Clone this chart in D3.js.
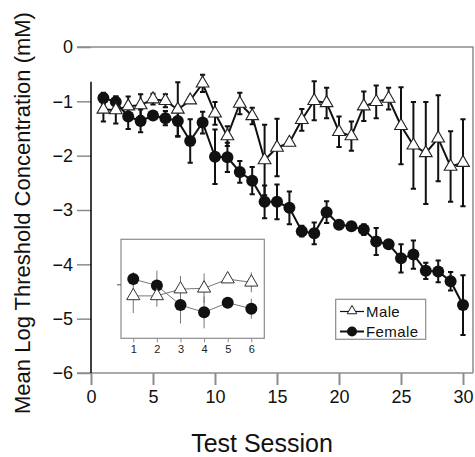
<!DOCTYPE html>
<html>
<head>
<meta charset="utf-8">
<script src="https://cdn.jsdelivr.net/npm/d3@7"></script>
<style>
  body { margin: 0; background: #fff; }
  svg text { font-family: "Liberation Sans", Arial, sans-serif; }
</style>
</head>
<body>
<script>
let width = 475;
let height = 457;

// main chart data
let sessions = [1,2,3,4,5,6,7,8,9,10,11,12,13,14,15,16,17,18,19,20,21,22,23,24,25,26,27,28,29,30];
let femaleMean = [-0.94,-1.01,-1.28,-1.36,-1.26,-1.31,-1.36,-1.73,-1.39,-2.02,-2.03,-2.30,-2.46,-2.85,-2.85,-2.96,-3.39,-3.43,-3.04,-3.27,-3.30,-3.36,-3.58,-3.63,-3.89,-3.82,-4.12,-4.13,-4.31,-4.75];
let femaleErr = [0.1,0.1,0.23,0.21,0.05,0.13,0.28,0.4,0.2,0.5,0.27,0.2,0.25,0.3,0.32,0.3,0.1,0.2,0.2,0.04,0.04,0.1,0.25,0.04,0.26,0.26,0.15,0.2,0.17,0.55];
let maleMean = [-1.15,-1.16,-1.09,-1.07,-0.96,-0.99,-1.15,-0.98,-0.67,-1.22,-1.64,-1.04,-1.27,-2.08,-1.85,-1.76,-1.34,-0.99,-1.03,-1.56,-1.64,-1.09,-1.01,-0.95,-1.45,-1.81,-1.95,-1.68,-2.20,-2.13];
let maleErr = [0.22,0.25,0.18,0.2,0.1,0.12,0.5,0.05,0.16,0.21,0.18,0.2,0.15,0.65,0.53,0.05,0.2,0.36,0.28,0.28,0.27,0.27,0.3,0.2,0.71,0.8,0.94,0.79,0.65,0.8];

let xTicks = [0,5,10,15,20,25,30];
let yTicks = [0,-1,-2,-3,-4,-5,-6];

// inset data (sessions 1-6)
let insetSessions = [1,2,3,4,5,6];
let insetFemale = [0.13,-0.03,-0.52,-0.70,-0.46,-0.61];
let insetFemaleErr = [0.18,0.37,0.46,0.4,0.08,0.25];
let insetMale = [-0.29,-0.29,-0.12,-0.10,0.13,0.05];
let insetMaleErr = [0.43,0.27,0.33,0.37,0.1,0.25];

let legendLabels = ['Male', 'Female'];

let fontFam = '"Liberation Sans", Arial, sans-serif';

let svg = d3.select('body').append('svg')
  .attr('width', width)
  .attr('height', height);

let x = d3.scaleLinear().domain([0, 30]).range([91, 463]);
let y = d3.scaleLinear().domain([-6, 0]).range([373, 47]);

let grey = '#8c8c8c';

// frame: top and right borders
svg.append('path')
  .attr('d', `M77,${y(0)}H473V${y(-6)}`)
  .attr('fill', 'none')
  .attr('stroke', grey)
  .attr('stroke-width', 1.5);

let xAxis = svg.append('g')
  .attr('transform', `translate(0,${y(-6)})`)
  .attr('font-family', fontFam)
  .call(d3.axisBottom(x).tickValues(xTicks).tickSize(12).tickPadding(5));
xAxis.select('.domain').attr('d', `M77,0H473`).attr('stroke', grey).attr('stroke-width', 1.5);
xAxis.selectAll('.tick line').attr('stroke', grey).attr('stroke-width', 2);
xAxis.selectAll('.tick text').attr('font-size', 18).attr('fill', '#111');

let yAxis = svg.append('g')
  .attr('transform', `translate(${x(0)},0)`)
  .attr('font-family', fontFam)
  .call(d3.axisLeft(y).tickValues(yTicks).tickSize(14).tickPadding(4).tickFormat(d3.format('d')));
yAxis.select('.domain').remove();
yAxis.selectAll('.tick line').attr('stroke', grey).attr('stroke-width', 1.5);
yAxis.selectAll('.tick text').attr('font-size', 18).attr('fill', '#111');

// black left axis line
svg.append('line')
  .attr('x1', x(0)).attr('x2', x(0))
  .attr('y1', y(-0.64)).attr('y2', y(-6))
  .attr('stroke', '#000')
  .attr('stroke-width', 1.5);

// titles
svg.append('text')
  .attr('x', 262).attr('y', 452)
  .attr('text-anchor', 'middle')
  .attr('font-size', 25)
  .attr('fill', '#111')
  .text('Test Session');

svg.append('text')
  .attr('transform', 'translate(30,213) rotate(-90)')
  .attr('text-anchor', 'middle')
  .attr('font-size', 22)
  .attr('fill', '#111')
  .text('Mean Log Threshold Concentration (mM)');

// inset
let ix = d3.scaleLinear().domain([0.48, 6.55]).range([121, 264.3]);
let iy = d3.scaleLinear().domain([-1.35, 1.125]).range([338.3, 239.3]);

let inset = svg.append('g');
inset.append('rect')
  .attr('x', ix.range()[0]).attr('y', iy.range()[1])
  .attr('width', ix.range()[1] - ix.range()[0])
  .attr('height', iy.range()[0] - iy.range()[1])
  .attr('fill', '#fff')
  .attr('stroke', grey)
  .attr('stroke-width', 1.2);

let ixAxis = inset.append('g')
  .attr('transform', `translate(0,${iy.range()[0]})`)
  .attr('font-family', fontFam)
  .call(d3.axisBottom(ix).tickValues(insetSessions).tickSize(4).tickPadding(3).tickFormat(d3.format('d')));
ixAxis.select('.domain').remove();
ixAxis.selectAll('.tick line').attr('stroke', grey);
ixAxis.selectAll('.tick text').attr('font-size', 11).attr('fill', '#222');

let iyAxis = inset.append('g')
  .attr('transform', `translate(${ix.range()[0]},0)`)
  .call(d3.axisLeft(iy).tickValues([0]).tickSize(4).tickFormat(''));
iyAxis.select('.domain').remove();
iyAxis.selectAll('.tick line').attr('stroke', '#555');

function insetSeries(vals, errs) {
  let pts = insetSessions.map((s, i) => ({ s, v: vals[i], e: errs[i] }));
  inset.append('g').selectAll('line').data(pts).enter().append('line')
    .attr('x1', (d) => ix(d.s)).attr('x2', (d) => ix(d.s))
    .attr('y1', (d) => iy(d.v + d.e)).attr('y2', (d) => iy(d.v - d.e))
    .attr('stroke', '#777').attr('stroke-width', 1);
  inset.append('path')
    .datum(pts)
    .attr('d', d3.line().x((d) => ix(d.s)).y((d) => iy(d.v)))
    .attr('fill', 'none').attr('stroke', '#777').attr('stroke-width', 1);
  return pts;
}
let ifPts = insetSeries(insetFemale, insetFemaleErr);
let imPts = insetSeries(insetMale, insetMaleErr);
inset.append('g').selectAll('circle').data(ifPts).enter().append('circle')
  .attr('cx', (d) => ix(d.s)).attr('cy', (d) => iy(d.v)).attr('r', 6)
  .attr('fill', '#111');
inset.append('g').selectAll('path').data(imPts).enter().append('path')
  .attr('transform', (d) => `translate(${ix(d.s)},${iy(d.v)})`)
  .attr('d', d3.symbol(d3.symbolTriangle, 75))
  .attr('fill', '#fff').attr('stroke', '#333').attr('stroke-width', 1);

// main series
let female = sessions.map((s, i) => ({ s, v: femaleMean[i], e: femaleErr[i] }));
let male = sessions.map((s, i) => ({ s, v: maleMean[i], e: maleErr[i] }));

function errorBars(pts) {
  let g = svg.append('g').attr('stroke', '#111').attr('stroke-width', 2).attr('fill', 'none');
  g.selectAll('path').data(pts).enter().append('path')
    .attr('d', (d) => {
      let cx = x(d.s), y1 = y(d.v + d.e), y2 = y(d.v - d.e);
      return `M${cx},${y1}V${y2}M${cx - 2.6},${y1}H${cx + 2.6}M${cx - 2.6},${y2}H${cx + 2.6}`;
    });
}
function seriesLine(pts) {
  svg.append('path')
    .datum(pts)
    .attr('d', d3.line().x((d) => x(d.s)).y((d) => y(d.v)))
    .attr('fill', 'none').attr('stroke', '#111').attr('stroke-width', 2);
}

errorBars(female);
seriesLine(female);
errorBars(male);
seriesLine(male);

svg.append('g').selectAll('circle').data(female).enter().append('circle')
  .attr('cx', (d) => x(d.s)).attr('cy', (d) => y(d.v)).attr('r', 6)
  .attr('fill', '#111');

svg.append('g').selectAll('path').data(male).enter().append('path')
  .attr('transform', (d) => `translate(${x(d.s)},${y(d.v)})`)
  .attr('d', d3.symbol(d3.symbolTriangle, 70))
  .attr('fill', '#fff').attr('stroke', '#222').attr('stroke-width', 1.1);

// legend
let legend = svg.append('g');
legend.append('rect')
  .attr('x', 335.7).attr('y', 299.3).attr('width', 90).attr('height', 40)
  .attr('fill', '#fff').attr('stroke', grey).attr('stroke-width', 1.2);

legendLabels.forEach((lab, i) => {
  let ly = 311.5 + i * 20;
  legend.append('line')
    .attr('x1', 340).attr('x2', 364).attr('y1', ly).attr('y2', ly)
    .attr('stroke', '#111').attr('stroke-width', i ? 2 : 1.2);
  if (i === 0) {
    legend.append('path')
      .attr('transform', `translate(352,${ly - 0.5})`)
      .attr('d', d3.symbol(d3.symbolTriangle, 40))
      .attr('fill', '#fff').attr('stroke', '#222').attr('stroke-width', 1);
  } else {
    legend.append('circle')
      .attr('cx', 352).attr('cy', ly).attr('r', 5)
      .attr('fill', '#111');
  }
  legend.append('text')
    .attr('x', 366).attr('y', ly + 5.5)
    .attr('font-size', 15)
    .attr('letter-spacing', 0.4)
    .attr('fill', '#111')
    .text(lab);
});
</script>
</body>
</html>
